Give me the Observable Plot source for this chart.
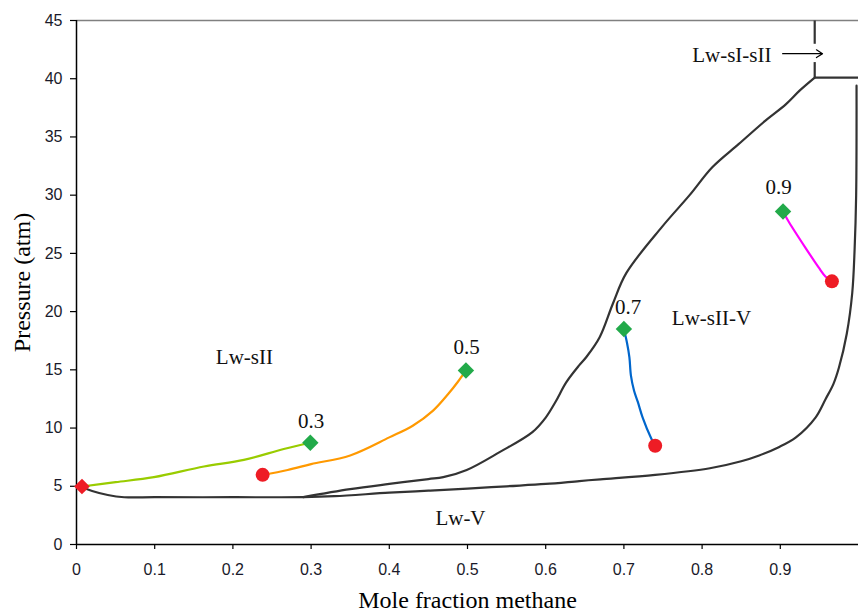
<!DOCTYPE html>
<html><head><meta charset="utf-8">
<script src="https://cdn.jsdelivr.net/npm/d3@7"></script>
<script src="https://cdn.jsdelivr.net/npm/@observablehq/plot@0.6"></script>
<style>body{margin:0;background:#fff;overflow:hidden}</style>
</head><body><div id="chart"></div>
<script>
// Axis ticks
const xTicks = [0, 0.1, 0.2, 0.3, 0.4, 0.5, 0.6, 0.7, 0.8, 0.9];
const xTickLabels = ["0", "0.1", "0.2", "0.3", "0.4", "0.5", "0.6", "0.7", "0.8", "0.9"];
const yTicks = [0, 5, 10, 15, 20, 25, 30, 35, 40, 45];

// Phase boundary: Lw-V / Lw-sII-V (lower curve)
const lowerX = [0.007, 0.02, 0.04, 0.061, 0.1, 0.2, 0.29, 0.33, 0.4, 0.45, 0.5, 0.55, 0.6, 0.643, 0.67, 0.74, 0.81, 0.85, 0.873, 0.898, 0.92, 0.945, 0.958, 0.968, 0.975, 0.985, 0.992, 0.995, 0.997, 0.9975];
const lowerP = [4.92, 4.6, 4.25, 4.06, 4.06, 4.06, 4.07, 4.15, 4.45, 4.62, 4.8, 5.0, 5.2, 5.45, 5.6, 5.98, 6.55, 7.15, 7.65, 8.36, 9.2, 10.9, 12.5, 13.8, 15.2, 18.1, 21.6, 25.3, 30.0, 39.4];

// Phase boundary: Lw-sII / Lw-sII-V (upper curve)
const upperX = [0.29, 0.35, 0.4, 0.45, 0.469, 0.499, 0.541, 0.583, 0.6, 0.613, 0.626, 0.643, 0.652, 0.669, 0.686, 0.703, 0.749, 0.784, 0.813, 0.847, 0.881, 0.907, 0.925, 0.944];
const upperP = [4.07, 4.75, 5.2, 5.62, 5.78, 6.4, 7.93, 9.65, 10.9, 12.3, 13.9, 15.4, 16.1, 17.8, 20.7, 23.3, 27.3, 30.0, 32.4, 34.4, 36.4, 37.8, 39.0, 40.1];

// Lw-sI-sII boundary segments
const sIsegX1 = [0.944, 0.944, 0.944];
const sIsegX2 = [0.944, 0.944, 1.0];
const sIsegP1 = [45, 41.43, 40.1];
const sIsegP2 = [43.0, 40.1, 40.1];

// Composition series
const seriesNames = ["0.3", "0.5", "0.7", "0.9"];
const seriesColors = ["#99cc00", "#ff9900", "#0066cc", "#ff00ff"];
const s03X = [0.007, 0.05, 0.099, 0.163, 0.214, 0.265, 0.299];
const s03P = [4.98, 5.35, 5.78, 6.7, 7.27, 8.2, 8.74];
const s05X = [0.238, 0.27, 0.3, 0.35, 0.4, 0.43, 0.456, 0.475, 0.488, 0.498];
const s05P = [5.98, 6.4, 6.9, 7.65, 9.2, 10.2, 11.5, 12.9, 14.0, 14.95];
const s07X = [0.700, 0.704, 0.707, 0.709, 0.713, 0.718, 0.724, 0.735, 0.740];
const s07P = [18.5, 17.3, 16.1, 14.5, 13.2, 12.2, 10.9, 9.1, 8.48];
const s09X = [0.9035, 0.911, 0.932, 0.949, 0.958, 0.966];
const s09P = [28.6, 27.7, 25.5, 23.8, 23.0, 22.6];

// Markers
const greenX = [0.299, 0.498, 0.700, 0.9035];
const greenP = [8.74, 14.95, 18.5, 28.6];
const redX = [0.007, 0.238, 0.740, 0.966];
const redP = [4.98, 5.98, 8.48, 22.6];
const redShape = ["diamond2", "circle", "circle", "circle"];

// Labels
const compText = ["0.3", "0.5", "0.7", "0.9"];
const compX = [0.300, 0.499, 0.7055, 0.898];
const compP = [10.57, 16.92, 20.39, 30.67];
const regionText = ["Lw-sII", "Lw-sII-V", "Lw-V", "Lw-sI-sII"];
const regionX = [0.2147, 0.812, 0.491, 0.838];
const regionP = [16.07, 19.46, 2.23, 42.05];
const arrowX1 = 0.903, arrowX2 = 0.954, arrowP = 42.15;

const xTitle = "Mole fraction methane";
const yTitle = "Pressure (atm)";

// Build tables
const toRows = (xs, ps) => xs.map((x, i) => ({x, p: ps[i]}));
const lower = toRows(lowerX, lowerP);
const upper = toRows(upperX, upperP);
const segs = sIsegX1.map((x, i) => ({x1: x, x2: sIsegX2[i], p1: sIsegP1[i], p2: sIsegP2[i]}));
const seriesArr = [[s03X, s03P], [s05X, s05P], [s07X, s07P], [s09X, s09P]];
const seriesRows = seriesArr.flatMap(([xs, ps], k) => xs.map((x, i) => ({x, p: ps[i], s: seriesNames[k]})));
const greens = toRows(greenX, greenP);
const reds = redX.map((x, i) => ({x, p: redP[i], shape: redShape[i]}));
const comps = compText.map((t, i) => ({t, x: compX[i], p: compP[i]}));
const regions = regionText.map((t, i) => ({t, x: regionX[i], p: regionP[i]}));

const serif = "'Liberation Serif', 'Times New Roman', serif";

const chart = Plot.plot({
  width: 858, height: 616,
  marginLeft: 76, marginRight: 0, marginTop: 20, marginBottom: 72,
  x: {domain: [0, 1]},
  y: {domain: [0, 45]},
  color: {domain: seriesNames, range: seriesColors},
  style: {background: "white", fontFamily: "'Liberation Sans', Arial, sans-serif", fontSize: "16px", color: "#000"},
  marks: [
    Plot.axisX({ticks: xTicks, tickFormat: d => xTickLabels[xTicks.indexOf(d)], tickSize: 5, tickPadding: 14, label: null, fontSize: 16, fill: "#1a1a2a", strokeWidth: 1.2}),
    Plot.axisY({ticks: yTicks, tickSize: 6, tickPadding: 8, label: null, fontSize: 16, fill: "#1a1a2a", strokeWidth: 1.2}),
    Plot.ruleY([45], {stroke: "#808080", strokeWidth: 1.5}),
    Plot.ruleX([0], {stroke: "#000", strokeWidth: 1.5}),
    Plot.ruleY([0], {stroke: "#000", strokeWidth: 1.5}),
    Plot.line(lower, {x: "x", y: "p", stroke: "#333", strokeWidth: 2.2, curve: "catmull-rom"}),
    Plot.line(upper, {x: "x", y: "p", stroke: "#333", strokeWidth: 2.2, curve: "catmull-rom"}),
    Plot.link(segs, {x1: "x1", x2: "x2", y1: "p1", y2: "p2", stroke: "#333", strokeWidth: 2.2}),
    Plot.arrow([{}], {x1: () => arrowX1, x2: () => arrowX2, y1: () => arrowP, y2: () => arrowP, stroke: "#000", strokeWidth: 1.2, headLength: 9, headAngle: 65}),
    Plot.line(seriesRows, {x: "x", y: "p", z: "s", stroke: "s", strokeWidth: 2.2, curve: "catmull-rom"}),
    Plot.dot(greens, {x: "x", y: "p", symbol: "diamond2", r: 7.4, fill: "#22aa4a", stroke: "none"}),
    Plot.dot(reds, {x: "x", y: "p", symbol: "shape", r: 7, fill: "#ee1c25", stroke: "none"}),
    Plot.text(comps, {x: "x", y: "p", text: "t", fontSize: 21, fontFamily: serif, fill: "#111"}),
    Plot.text(regions, {x: "x", y: "p", text: "t", fontSize: 21, fontFamily: serif, fill: "#111"}),
    Plot.text([xTitle], {text: d => d, frameAnchor: "bottom", textAnchor: "middle", lineAnchor: "middle", dy: 56, fontSize: 24, fontFamily: serif, fill: "#000"}),
    Plot.text([yTitle], {text: d => d, frameAnchor: "left", textAnchor: "middle", lineAnchor: "middle", dx: -54, rotate: -90, fontSize: 24, fontFamily: serif, fill: "#000"})
  ]
});
document.getElementById("chart").appendChild(chart);
</script>
</body></html>
